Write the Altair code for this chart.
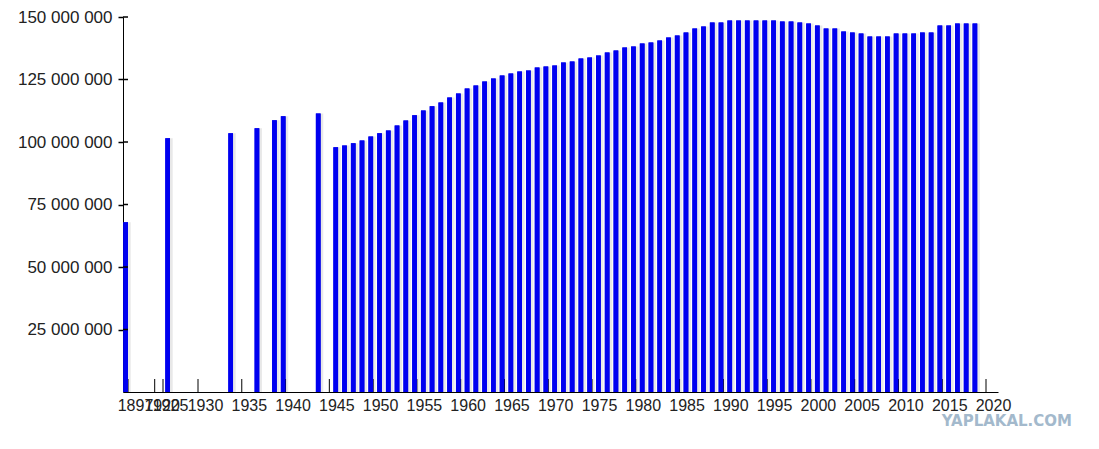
import altair as alt
import pandas as pd

# ---- data ----
early_years = [1897, 1926, 1934, 1937, 1939, 1940, 1944]
early_pop_mln = [67.9, 101.5, 103.5, 105.5, 108.7, 110.3, 111.4]

later_years = list(range(1946, 2020))
later_pop_mln = [
    97.9, 98.6, 99.5, 100.6,                                  # 1946-1949
    102.2, 103.5, 104.6, 106.6, 108.6, 110.7, 112.6, 114.3, 115.8, 117.8,  # 1950-1959
    119.4, 121.4, 122.6, 124.2, 125.4, 126.6, 127.4, 128.2, 128.6, 129.8,  # 1960-1969
    130.2, 130.6, 131.8, 132.2, 133.4, 133.8, 134.6, 135.8, 136.6, 137.8,  # 1970-1979
    138.2, 139.4, 139.8, 140.6, 141.8, 142.6, 143.8, 145.4, 146.2, 147.8,  # 1980-1989
    147.8, 148.6, 148.6, 148.6, 148.6, 148.6, 148.6, 148.2, 148.2, 147.8,  # 1990-1999
    147.4, 146.6, 145.4, 145.4, 144.2, 143.8, 143.4, 142.2, 142.2, 142.2,  # 2000-2009
    143.4, 143.4, 143.4, 143.8, 143.8, 146.6, 146.6, 147.4, 147.4, 147.4,  # 2010-2019
]

x_tick_years = [1897, 1920, 1925, 1930, 1935, 1940, 1945, 1950, 1955, 1960,
                1965, 1970, 1975, 1980, 1985, 1990, 1995, 2000, 2005, 2010,
                2015, 2020]
y_tick_values = [25_000_000, 50_000_000, 75_000_000, 100_000_000,
                 125_000_000, 150_000_000]

years = early_years + later_years
pops = [v * 1_000_000 for v in early_pop_mln + later_pop_mln]
df = pd.DataFrame({"year": years, "pop": pops})
df_xt = pd.DataFrame({"year": x_tick_years})
df_yt = pd.DataFrame({"pop": y_tick_values})

W, H = 875, 375
FONT = "Liberation Sans"

# the original axis is compressed before 1930
x_scale = alt.Scale(domain=[1896.45, 1897, 1920, 1925, 1930, 2021.37],
                    range=[0, 5, 31.7, 40, 75, W], nice=False, zero=False,
                    padding=0)
y_scale = alt.Scale(domain=[0, 150_000_000], nice=False, padding=0)

x_axis = alt.Axis(values=x_tick_years, format="d", ticks=False, grid=False,
                  domainColor="#000", domainWidth=1, labelFont=FONT,
                  labelFontSize=16, labelColor="#222", labelOffset=7,
                  labelPadding=5, labelOverlap=False, labelFlush=False,
                  title=None)
y_axis = alt.Axis(values=y_tick_values, grid=False, domainColor="#000",
                  domainWidth=1, tickColor="#000", tickSize=5, tickWidth=1.5,
                  labelFont=FONT, labelFontSize=17, labelColor="#222",
                  labelPadding=6, labelOverlap=False,
                  labelExpr="replace(format(datum.value, ','), regexp(',', 'g'), ' ')",
                  title=None)

bars = alt.Chart(df).mark_bar(width=4.7, xOffset=-2.35, color="#0000f0").encode(
    x=alt.X("year:Q", scale=x_scale, axis=x_axis),
    y=alt.Y("pop:Q", scale=y_scale, axis=y_axis),
)

x_ticks = alt.Chart(df_xt).mark_rule(color="#000", strokeWidth=1).encode(
    x=alt.X("year:Q", scale=x_scale, axis=x_axis),
    y=alt.value(H - 13),
    y2=alt.value(H),
)

shadow = alt.Chart(df).mark_bar(width=4.6, xOffset=0.4, color="#000",
                                opacity=0.09).encode(
    x=alt.X("year:Q", scale=x_scale, axis=x_axis),
    y=alt.Y("pop:Q", scale=y_scale, axis=y_axis),
)

y_inner = alt.Chart(df_yt).mark_rule(color="#000", strokeWidth=1.5).encode(
    y=alt.Y("pop:Q", scale=y_scale, axis=y_axis),
    x=alt.value(0),
    x2=alt.value(5),
)

watermark = alt.Chart(pd.DataFrame({"t": ["YAPLAKAL.COM"]})).mark_text(
    font="DejaVu Sans", fontWeight="bold", fontSize=15, color="#a3b9cc",
    align="right", baseline="middle",
).encode(text="t:N", x=alt.value(949), y=alt.value(404))

chart = alt.layer(bars, x_ticks, shadow, bars, y_inner, watermark).properties(
    width=W, height=H,
    autosize=alt.AutoSizeParams(type="none"),
    padding={"left": 115, "top": 9, "right": 85, "bottom": 40},
).configure_view(stroke=None)

chart.save("out.html", embed_options={"renderer": "svg", "actions": False})
